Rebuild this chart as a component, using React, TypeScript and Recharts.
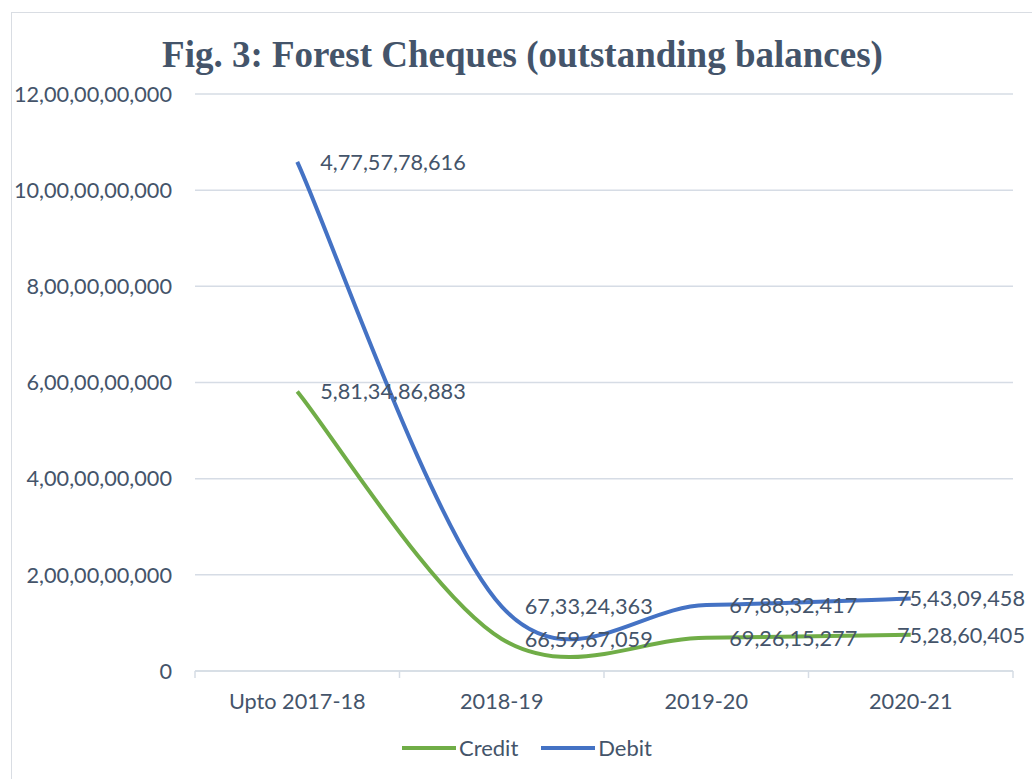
import React from 'react';
import { ComposedChart, Area, XAxis, YAxis, CartesianGrid, LabelList, Legend } from 'recharts';

// ---------- data ----------
const CATEGORIES = ['Upto 2017-18', '2018-19', '2019-20', '2020-21'];
const CREDIT = [5813486883, 665967059, 692615277, 752860405];
const DEBIT = [4775778616, 673324363, 678832417, 754309458];
const Y_TICKS = [0, 2000000000, 4000000000, 6000000000, 8000000000, 10000000000, 12000000000];
const SERIES_NAMES = ['Credit', 'Debit'];

// ---------- styles / layout ----------
const W = 1032;
const H = 779;
const MARGIN = { top: 94, right: 19, bottom: 78, left: 0 };
const Y_AXIS_W = 195;
const X_AXIS_H = 30;
const BAND = (W - MARGIN.right - MARGIN.left - Y_AXIS_W) / CATEGORIES.length;
const FONT = "Lato, 'Open Sans', sans-serif";
const TEXT = '#44546A';
const GRID = '#D6DCE5';
const COLORS: Record<string, string> = { Credit: '#70AD47', Debit: '#4472C4' };

const data = CATEGORIES.map((c, i) => ({ category: c, Credit: CREDIT[i], Debit: DEBIT[i] }));

function toIndian(n: number): string {
  const s = Math.round(n).toString();
  if (s.length <= 3) return s;
  const last3 = s.slice(-3);
  let rest = s.slice(0, -3);
  const parts: string[] = [];
  while (rest.length > 2) {
    parts.unshift(rest.slice(-2));
    rest = rest.slice(0, -2);
  }
  if (rest) parts.unshift(rest);
  return parts.join(',') + ',' + last3;
}

// Catmull-Rom style smoothing (like Excel's "smoothed line")
function smoothCurve(context: any) {
  let pts: number[][] = [];
  let line: any;
  return {
    areaStart() { line = 0; },
    areaEnd() { line = NaN; },
    lineStart() { pts = []; },
    lineEnd() {
      const n = pts.length;
      if (n > 0) {
        if (line) context.lineTo(pts[0][0], pts[0][1]);
        else context.moveTo(pts[0][0], pts[0][1]);
        for (let i = 0; i < n - 1; i++) {
          const p0 = pts[i - 1] || pts[i];
          const p1 = pts[i];
          const p2 = pts[i + 1];
          const p3 = pts[i + 2] || pts[i + 1];
          context.bezierCurveTo(
            p1[0] + (p2[0] - p0[0]) / 6,
            p1[1] + (p2[1] - p0[1]) / 6,
            p2[0] - (p3[0] - p1[0]) / 6,
            p2[1] - (p3[1] - p1[1]) / 6,
            p2[0],
            p2[1]
          );
        }
      }
      if (line || (line !== 0 && n === 1)) context.closePath();
      line = 1 - line;
    },
    point(x: number, y: number) { pts.push([+x, +y]); },
  };
}

const makeLabel = (values: number[]) => (props: any) => {
  const { x, y, index } = props;
  if (x == null || y == null || index == null) return null;
  const last = index === values.length - 1;
  return (
    <text
      x={last ? W - 7 : Number(x) + 23}
      y={Number(y)}
      dy="0.36em"
      textAnchor={last ? 'end' : 'start'}
      fontFamily={FONT}
      fontSize={21.7}
      fill={TEXT}
    >
      {toIndian(values[index])}
    </text>
  );
};

// category label at band centre + tick marks at band boundaries
const CategoryTick = (props: any) => {
  const { x, y, payload, index } = props;
  const i = payload && payload.index != null ? payload.index : index;
  const axisY = Number(y) - 23;
  const left = Number(x) - BAND / 2;
  const right = Number(x) + BAND / 2;
  return (
    <g>
      <line x1={left} y1={axisY} x2={left} y2={axisY + 7} stroke={GRID} strokeWidth={1.5} />
      {i === CATEGORIES.length - 1 && (
        <line x1={right} y1={axisY} x2={right} y2={axisY + 7} stroke={GRID} strokeWidth={1.5} />
      )}
      <text x={Number(x)} y={Number(y)} dy="0.71em" textAnchor="middle" fontFamily={FONT} fontSize={21.7} fill={TEXT}>
        {payload.value}
      </text>
    </g>
  );
};

const LegendContent = () => (
  <div style={{ display: 'flex', alignItems: 'center', fontFamily: FONT, fontSize: 22, color: TEXT, lineHeight: '26px' }}>
    {SERIES_NAMES.map((name, i) => (
      <div key={name} style={{ display: 'flex', alignItems: 'center', marginRight: i === 0 ? 23 : 0 }}>
        <svg width={54} height={10} style={{ display: 'block' }}>
          <line x1={0} y1={5} x2={54} y2={5} stroke={COLORS[name]} strokeWidth={4} />
        </svg>
        <span style={{ marginLeft: 3 }}>{name}</span>
      </div>
    ))}
  </div>
);

export default function App() {
  return (
    <div style={{ position: 'fixed', left: 0, top: 0, width: W, height: H, overflow: 'hidden', background: '#fff' }}>
      <div
        style={{
          position: 'absolute', left: 11, top: 12, width: 1200, height: 1000,
          border: '1px solid #D9DDE3', boxSizing: 'border-box',
        }}
      />
      <div
        style={{
          position: 'absolute', left: 0, top: 36, width: 1045, textAlign: 'center',
          fontFamily: "'Liberation Serif', 'Times New Roman', serif", fontWeight: 'bold',
          fontSize: 37, lineHeight: '37px', color: TEXT, whiteSpace: 'nowrap',
        }}
      >
        Fig. 3: Forest Cheques (outstanding balances)
      </div>
      <div style={{ position: 'absolute', left: 0, top: 0 }}>
        <ComposedChart width={W} height={H} data={data} margin={MARGIN}>
          <CartesianGrid vertical={false} stroke={GRID} strokeWidth={1.5} />
          <XAxis
            dataKey="category"
            type="category"
            scale="band"
            height={X_AXIS_H}
            axisLine={{ stroke: GRID, strokeWidth: 1.5 }}
            tickLine={false}
            tickSize={0}
            tickMargin={23}
            interval={0}
            tick={<CategoryTick />}
          />
          <YAxis
            type="number"
            domain={[0, 12000000000]}
            ticks={Y_TICKS}
            tickFormatter={(v: number) => toIndian(v)}
            width={Y_AXIS_W}
            axisLine={false}
            tickLine={false}
            tickSize={0}
            tickMargin={23}
            interval={0}
            tick={{ fill: TEXT, fontSize: 21.7, fontFamily: FONT }}
          />
          <Area
            stackId="s"
            dataKey="Credit"
            name="Credit"
            type={smoothCurve as any}
            stroke={COLORS.Credit}
            strokeWidth={4}
            fill="none"
            fillOpacity={0}
            dot={false}
            activeDot={false}
            isAnimationActive={false}
          >
            <LabelList content={makeLabel(CREDIT)} />
          </Area>
          <Area
            stackId="s"
            dataKey="Debit"
            name="Debit"
            type={smoothCurve as any}
            stroke={COLORS.Debit}
            strokeWidth={4}
            fill="none"
            fillOpacity={0}
            dot={false}
            activeDot={false}
            isAnimationActive={false}
          >
            <LabelList content={makeLabel(DEBIT)} />
          </Area>
          <Legend
            layout="horizontal"
            verticalAlign="middle"
            align="center"
            content={<LegendContent />}
            wrapperStyle={{ left: 402, top: 735, width: 300 }}
          />
        </ComposedChart>
      </div>
    </div>
  );
}
